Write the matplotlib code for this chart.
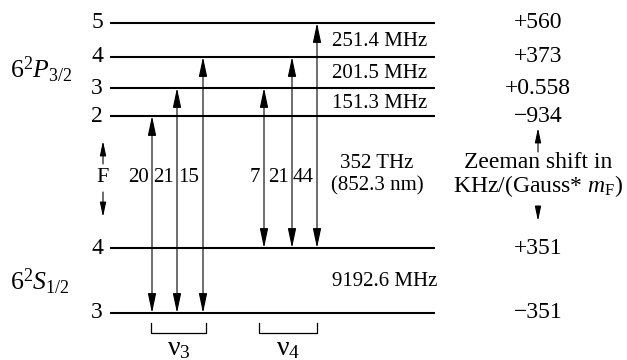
import matplotlib
matplotlib.use("Agg")
import matplotlib.pyplot as plt

plt.rcParams['font.family'] = ['Liberation Serif', 'DejaVu Serif']
plt.rcParams['mathtext.fontset'] = 'custom'
plt.rcParams['mathtext.rm'] = 'Liberation Serif'
plt.rcParams['mathtext.it'] = 'Liberation Serif:italic'
plt.rcParams['mathtext.bf'] = 'Liberation Serif:bold'

# Cs D2 line hyperfine structure
excited_F = [5, 4, 3, 2]
ground_F = [4, 3]
excited_splittings = ["251.4 MHz", "201.5 MHz", "151.3 MHz"]
ground_splitting = "9192.6 MHz"
excited_zeeman = ["+560", "+373", "+0.558", "\u2212934"]
ground_zeeman = ["+351", "\u2212351"]
# relative transition strengths: F=3 -> F'=2,3,4 and F=4 -> F'=3,4,5
strengths_nu3 = [20, 21, 15]
upper_nu3 = [2, 3, 4]
strengths_nu4 = [7, 21, 44]
upper_nu4 = [3, 4, 5]

# layout (pixel coordinates, y downward)
W, H = 627, 360
y_exc = {5: 23, 4: 57, 3: 88, 2: 116}
y_gnd = {4: 248, 3: 313}
x0, x1 = 110, 435
x_nu3 = [152, 177, 203]
x_nu4 = [264, 292, 317]
x_zee = 538
fs = 15
fs_big = 17

fig = plt.figure(figsize=(W / 100, H / 100), dpi=100)
ax = fig.add_axes([0, 0, 1, 1])
ax.set_xlim(0, W)
ax.set_ylim(H, 0)
ax.axis('off')


def arrow(xa, ya, xb, yb, style="<|-|>", scale=15, hl=0.8, hw=0.17):
    ax.annotate("", xy=(xb, yb), xytext=(xa, ya),
                arrowprops=dict(arrowstyle=f"{style},head_length={hl},head_width={hw}",
                                mutation_scale=scale, lw=0.8, color='black',
                                shrinkA=0, shrinkB=0))


# energy levels
for F in excited_F:
    ax.plot([x0, x1], [y_exc[F]] * 2, color='black', lw=1.5, solid_capstyle='butt')
    ax.text(97, y_exc[F], str(F), ha='center', va='center', fontsize=fs_big)
for F in ground_F:
    ax.plot([x0, x1], [y_gnd[F]] * 2, color='black', lw=1.5, solid_capstyle='butt')
    ax.text(97, y_gnd[F], str(F), ha='center', va='center', fontsize=fs_big)

ax.text(10, 78, r'$6^2P_{3/2}$', ha='left', va='baseline', fontsize=fs_big + 1.5)
ax.text(10, 290, r'$6^2S_{1/2}$', ha='left', va='baseline', fontsize=fs_big + 1.5)

# transitions with strengths
for x, s, F in zip(x_nu3, strengths_nu3, upper_nu3):
    arrow(x, y_gnd[3], x, y_exc[F])
    ax.text(x - 3.5, 178, str(s), ha='right', va='center', fontsize=fs)
for x, s, F in zip(x_nu4, strengths_nu4, upper_nu4):
    arrow(x, y_gnd[4], x, y_exc[F])
    ax.text(x - 3.5, 178, str(s), ha='right', va='center', fontsize=fs)

# F axis indicator
ax.text(103, 178, "F", ha='center', va='center', fontsize=fs + 1)
arrow(103, 164, 103, 141, style="-|>", scale=11)
arrow(103, 192, 103, 217, style="-|>", scale=11)

# splittings
for i, lab in enumerate(excited_splittings):
    ym = (y_exc[excited_F[i]] + y_exc[excited_F[i + 1]]) / 2 + 1
    ax.text(332, ym, lab, ha='left', va='center', fontsize=fs)
ax.text(332, 282, ground_splitting, ha='left', va='center', fontsize=fs)
ax.text(377, 164, "352 THz", ha='center', va='center', fontsize=fs)
ax.text(377, 186, "(852.3 nm)", ha='center', va='center', fontsize=fs)

# Zeeman shifts
for F, z in zip(excited_F, excited_zeeman):
    ax.text(x_zee, y_exc[F], z, ha='center', va='center', fontsize=fs_big)
for F, z in zip(ground_F, ground_zeeman):
    ax.text(x_zee, y_gnd[F], z, ha='center', va='center', fontsize=fs_big)
ax.text(x_zee, 163, "Zeeman shift in", ha='center', va='center', fontsize=fs_big)
ax.text(x_zee, 186, r"KHz/(Gauss* $m_\mathrm{F}$)", ha='center', va='center', fontsize=fs_big)
arrow(x_zee, 152, x_zee, 128, style="-|>", scale=11)
arrow(x_zee, 206, x_zee, 221, style="-|>", scale=11)

# brackets grouping the two laser frequencies
for xa, xb, lab in [(151, 206, r"ν$_3$"), (259, 317, r"ν$_4$")]:
    ax.plot([xa, xa, xb, xb], [323, 333, 333, 323], color='black', lw=0.9)
    ax.text((xa + xb) / 2, 349, lab, ha='center', va='center', fontsize=fs + 5)

fig.savefig("out.png", dpi=100)
